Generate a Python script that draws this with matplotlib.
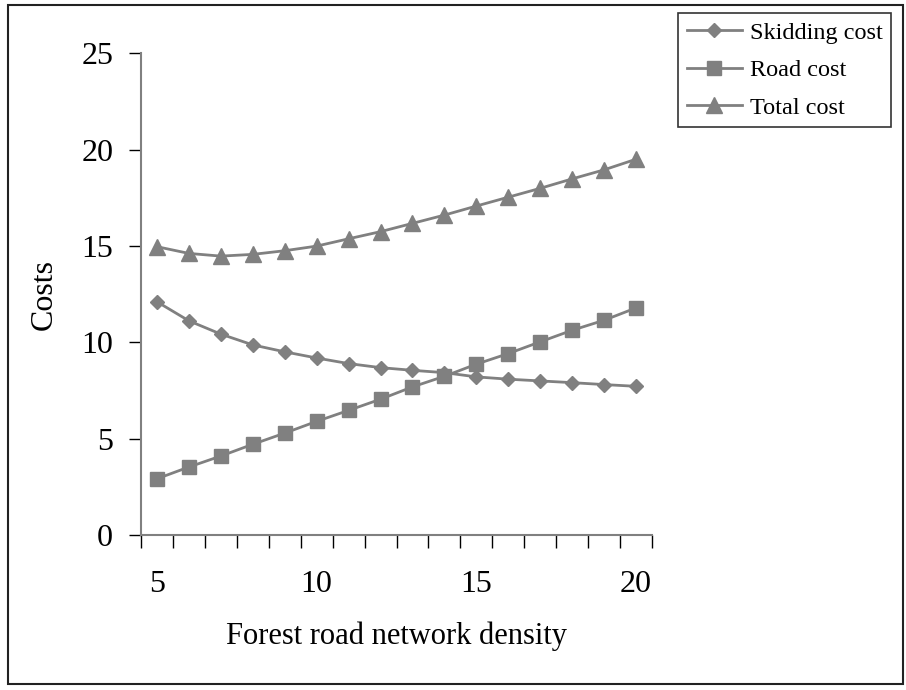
import matplotlib
matplotlib.use("Agg")
import matplotlib.pyplot as plt
from matplotlib.patches import Rectangle
from matplotlib.ticker import FixedLocator

plt.rcParams['font.family'] = ['Liberation Serif', 'DejaVu Serif']

# network density (categories) and cost series
density = [5, 6, 7, 8, 9, 10, 11, 12, 13, 14, 15, 16, 17, 18, 19, 20]
skidding_cost = [12.11, 11.12, 10.43, 9.87, 9.51, 9.19, 8.90, 8.69,
                 8.55, 8.43, 8.21, 8.09, 8.00, 7.91, 7.81, 7.72]
road_cost = [2.92, 3.53, 4.10, 4.71, 5.29, 5.90, 6.47, 7.05,
             7.69, 8.24, 8.87, 9.42, 10.03, 10.63, 11.15, 11.79]
total_cost = [14.97, 14.62, 14.48, 14.57, 14.76, 15.00, 15.38, 15.75,
              16.18, 16.61, 17.08, 17.54, 18.00, 18.49, 18.96, 19.51]
x_labels = [5, 10, 15, 20]
y_ticks = [0, 5, 10, 15, 20, 25]

grey = '#808080'

fig = plt.figure(figsize=(9.06, 6.9), dpi=100)
ax = fig.add_axes([141 / 906, 1 - 535 / 690, 511 / 906, 481.5 / 690])

ax.plot(density, skidding_cost, '-', marker='D', ms=7.5, color=grey, lw=2,
        label='Skidding cost')
ax.plot(density, road_cost, '-', marker='s', ms=10, color=grey, lw=2,
        label='Road cost')
ax.plot(density, total_cost, '-', marker='^', ms=11, color=grey, lw=2,
        label='Total cost')

# category axis: ticks between categories, labels every 5th
ax.set_xlim(density[0] - 0.5, density[-1] + 0.5)
ax.set_ylim(0, 25)
ax.set_xticks(x_labels)
ax.xaxis.set_minor_locator(FixedLocator([d - 0.5 for d in density] + [density[-1] + 0.5]))
ax.tick_params(axis='x', which='major', length=0, pad=25, labelsize=23)
ax.tick_params(axis='x', which='minor', length=9, width=1, color='black', direction='out')
ax.set_yticks(y_ticks)
ax.tick_params(axis='y', length=9, width=1, color='black', pad=11, labelsize=23, direction='out')

for side in ['top', 'right']:
    ax.spines[side].set_visible(False)
for side in ['left', 'bottom']:
    ax.spines[side].set_color(grey)
    ax.spines[side].set_linewidth(1.5)

ax.set_xlabel('Forest road network density', fontsize=22)
ax.xaxis.set_label_coords(0.5, -0.18)
ax.set_ylabel('Costs', fontsize=23)
ax.yaxis.set_label_coords(-0.16, 0.5)

leg = fig.legend(loc='upper left', bbox_to_anchor=(678 / 906, 1 - 13 / 690),
                 fontsize=17.5, frameon=True, fancybox=False, handlelength=2.3,
                 handletextpad=0.3, labelspacing=0.64, borderpad=0.35, borderaxespad=0)
leg.get_frame().set_edgecolor('black')
leg.get_frame().set_linewidth(1.2)

# outer chart border
fig.patches.append(Rectangle((8 / 906, 1 - 684 / 690), 895 / 906, 679 / 690,
                             transform=fig.transFigure, fill=False,
                             edgecolor='#222222', lw=1.5))

fig.savefig('out.png', dpi=100)
